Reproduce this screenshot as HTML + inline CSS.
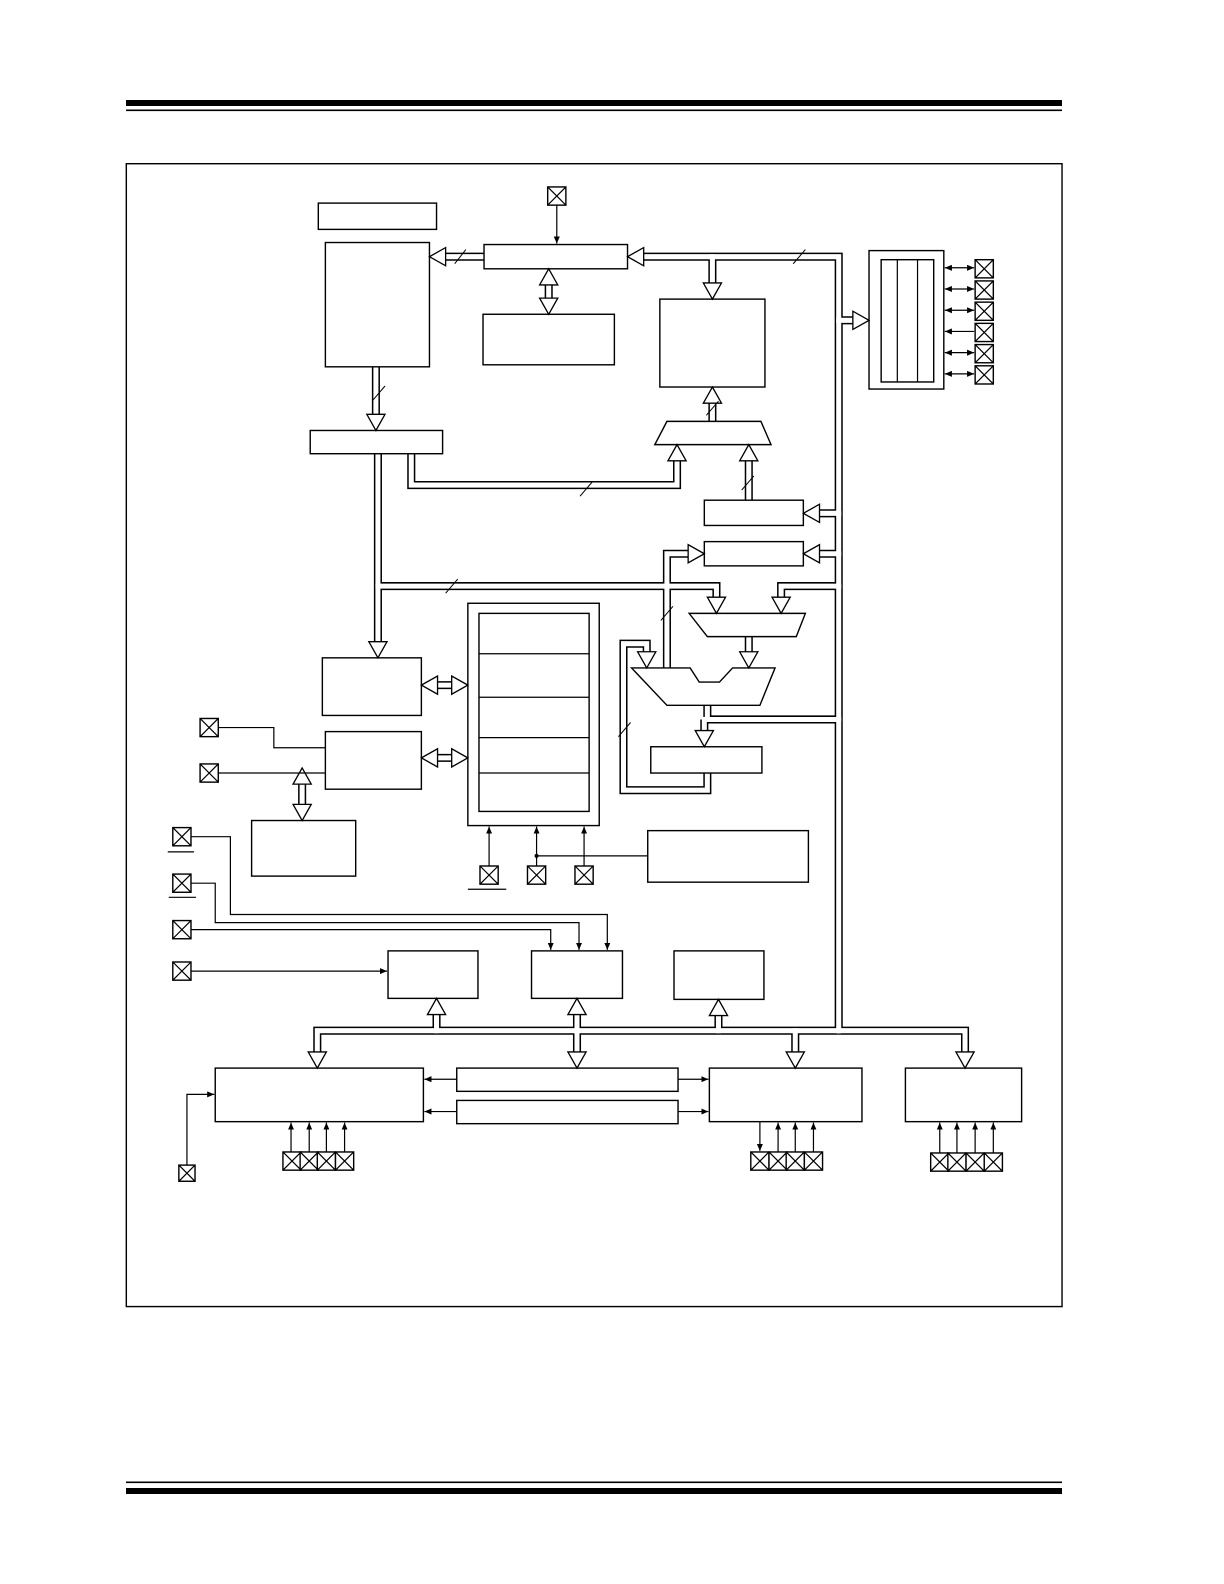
<!DOCTYPE html>
<html><head><meta charset="utf-8"><style>
html,body{margin:0;padding:0;background:#fff}
svg{display:block}
.r{fill:#fff;stroke:#000;stroke-width:1.4}
.l{fill:none;stroke:#000;stroke-width:1.2}
.bo{fill:none;stroke:#000;stroke-width:8;stroke-linejoin:miter;stroke-linecap:butt}
.bi{fill:none;stroke:#fff;stroke-width:5;stroke-linejoin:miter;stroke-linecap:square}
.a{fill:#fff;stroke:#000;stroke-width:1.3;stroke-linejoin:miter}
.s{stroke:#000;stroke-width:1;fill:none}
</style></head><body>
<svg width="1224" height="1584" viewBox="0 0 1224 1584" xmlns="http://www.w3.org/2000/svg">
<defs>
<marker id="m" markerWidth="8" markerHeight="8" refX="7" refY="3" orient="auto" markerUnits="userSpaceOnUse"><path d="M0,0 L7,3 L0,6 z" fill="#000"/></marker>
<marker id="ms" markerWidth="8" markerHeight="8" refX="0" refY="3" orient="auto" markerUnits="userSpaceOnUse"><path d="M7,0 L0,3 L7,6 z" fill="#000"/></marker>
<g id="p"><rect x="-9" y="-9" width="18" height="18" class="r"/><path d="M-9,-9 L9,9 M9,-9 L-9,9" class="l"/></g>
</defs>
<rect x="126" y="100" width="936" height="6" fill="#000"/>
<rect x="126" y="109.5" width="936" height="1.6" fill="#000"/>
<rect x="126" y="1481.5" width="936" height="1.6" fill="#000"/>
<rect x="126" y="1488" width="936" height="6" fill="#000"/>
<g transform="scale(1.0105)">
<rect x="125" y="162" width="926" height="1131" class="r"/>
<g class="bo">
<path d="M479 254 H438"/>
<path d="M634 254 H830 V1020"/>
<path d="M705 254 V283"/>
<path d="M830 317 H847"/>
<path d="M830 508 H808"/>
<path d="M830 548 H808"/>
<path d="M830 580 H773 V594"/>
<path d="M700 698 V712 H830"/>
<path d="M697 712 V726"/>
<path d="M830 1020 H314 V1044"/>
<path d="M830 1020 H955 V1044"/>
<path d="M432 1020 V1001"/><path d="M571 1020 V1001"/><path d="M711 1020 V1002"/>
<path d="M571 1020 V1044"/><path d="M787 1020 V1044"/>
<path d="M372 363 V413"/>
<path d="M374 449 V637"/>
<path d="M374 580 H709 V594"/>
<path d="M407 449 V480 H670 V453"/>
<path d="M741 520 V453"/>
<path d="M705 417 V396"/>
<path d="M741 630 V648"/>
<path d="M700 765 V782 H617 V637 H640 V648"/>
<path d="M660 661 V548 H684"/>
<path d="M543 279 V298"/>
<path d="M430 678 H450"/>
<path d="M430 750 H450"/>
<path d="M299 773 V799"/>
</g>
<g class="bi">
<path d="M479 254 H438"/>
<path d="M634 254 H830 V1020"/>
<path d="M705 254 V283"/>
<path d="M830 317 H847"/>
<path d="M830 508 H808"/>
<path d="M830 548 H808"/>
<path d="M830 580 H773 V594"/>
<path d="M700 698 V712 H830"/>
<path d="M697 712 V726"/>
<path d="M830 1020 H314 V1044"/>
<path d="M830 1020 H955 V1044"/>
<path d="M432 1020 V1001"/><path d="M571 1020 V1001"/><path d="M711 1020 V1002"/>
<path d="M571 1020 V1044"/><path d="M787 1020 V1044"/>
<path d="M372 363 V413"/>
<path d="M374 449 V637"/>
<path d="M374 580 H709 V594"/>
<path d="M407 449 V480 H670 V453"/>
<path d="M741 520 V453"/>
<path d="M705 417 V396"/>
<path d="M741 630 V648"/>
<path d="M700 765 V782 H617 V637 H640 V648"/>
<path d="M660 661 V548 H684"/>
<path d="M543 279 V298"/>
<path d="M430 678 H450"/>
<path d="M430 750 H450"/>
<path d="M299 773 V799"/>
</g>
<rect x="315" y="201" width="117" height="26" class="r"/>
<rect x="322" y="240" width="103" height="123" class="r"/>
<rect x="479" y="242" width="142" height="24" class="r"/>
<rect x="478" y="311" width="130" height="50" class="r"/>
<rect x="653" y="296" width="104" height="87" class="r"/>
<rect x="307" y="426" width="131" height="23" class="r"/>
<rect x="860" y="248" width="74" height="137" class="r"/>
<rect x="872" y="257" width="52" height="121" class="r"/>
<path d="M888 257 V378 M908 257 V378" class="l"/>
<rect x="697" y="495" width="98" height="25" class="r"/>
<rect x="697" y="536" width="98" height="24" class="r"/>
<polygon points="660,417 753,417 763,440 648,440" class="r"/>
<polygon points="682,607 797,607 788,630 700,630" class="r"/>
<polygon points="625,661 683,661 692,675 712,675 725,661 767,661 752,698 660,698" class="r"/>
<rect x="644" y="739" width="110" height="26" class="r"/>
<rect x="463" y="597" width="130" height="220" class="r"/>
<rect x="474" y="607" width="109" height="196" class="r"/>
<path d="M474 647 H583 M474 690 H583 M474 730 H583 M474 765 H583" class="l"/>
<rect x="319" y="651" width="98" height="57" class="r"/>
<rect x="322" y="724" width="95" height="57" class="r"/>
<rect x="249" y="812" width="103" height="55" class="r"/>
<rect x="641" y="822" width="159" height="51" class="r"/>
<rect x="384" y="941" width="89" height="47" class="r"/>
<rect x="526" y="941" width="90" height="47" class="r"/>
<rect x="667" y="941" width="89" height="48" class="r"/>
<rect x="213" y="1057" width="206" height="53" class="r"/>
<rect x="452" y="1057" width="219" height="23" class="r"/>
<rect x="452" y="1089" width="219" height="23" class="r"/>
<rect x="702" y="1057" width="151" height="53" class="r"/>
<rect x="896" y="1057" width="115" height="53" class="r"/>
<g class="a">
<polygon points="425,254 441,245 441,263"/>
<polygon points="621,254 637,245 637,263"/>
<polygon points="705,296 696,280 714,280"/>
<polygon points="860,317 844,308 844,326"/>
<polygon points="795,508 811,499 811,517"/>
<polygon points="795,548 811,539 811,557"/>
<polygon points="697,548 681,539 681,557"/>
<polygon points="543,266 534,282 552,282"/>
<polygon points="543,311 534,295 552,295"/>
<polygon points="372,426 363,410 381,410"/>
<polygon points="374,651 365,635 383,635"/>
<polygon points="670,440 661,456 679,456"/>
<polygon points="741,440 732,456 750,456"/>
<polygon points="705,383 696,399 714,399"/>
<polygon points="709,607 700,591 718,591"/>
<polygon points="773,607 764,591 782,591"/>
<polygon points="741,661 732,645 750,645"/>
<polygon points="640,661 631,645 649,645"/>
<polygon points="697,739 688,723 706,723"/>
<polygon points="417,678 433,669 433,687"/>
<polygon points="463,678 447,669 447,687"/>
<polygon points="417,750 433,741 433,759"/>
<polygon points="463,750 447,741 447,759"/>
<polygon points="299,760 290,776 308,776"/>
<polygon points="299,812 290,796 308,796"/>
<polygon points="432,988 423,1004 441,1004"/>
<polygon points="571,988 562,1004 580,1004"/>
<polygon points="711,989 702,1005 720,1005"/>
<polygon points="314,1057 305,1041 323,1041"/>
<polygon points="571,1057 562,1041 580,1041"/>
<polygon points="787,1057 778,1041 796,1041"/>
<polygon points="955,1057 946,1041 964,1041"/>
</g>
<path class="s" d="M450 261 L461 247 M369 396 L381 382 M785 261 L797 247 M574 491 L586 477 M441 587 L453 573 M734 485 L746 471 M699 411 L711 397 M654 614 L666 600 M612 729 L624 715"/>
<use href="#p" x="551" y="194"/>
<path class="l" d="M551 203 V241" marker-end="url(#m)"/>
<use href="#p" x="974" y="266"/><use href="#p" x="974" y="287"/><use href="#p" x="974" y="308"/>
<use href="#p" x="974" y="329"/><use href="#p" x="974" y="350"/><use href="#p" x="974" y="371"/>
<path class="l" d="M935 265 H964" marker-start="url(#ms)" marker-end="url(#m)"/>
<path class="l" d="M935 286 H964" marker-start="url(#ms)" marker-end="url(#m)"/>
<path class="l" d="M935 307 H964" marker-start="url(#ms)" marker-end="url(#m)"/>
<path class="l" d="M935 328 H964" marker-start="url(#ms)"/>
<path class="l" d="M935 349 H964" marker-start="url(#ms)" marker-end="url(#m)"/>
<path class="l" d="M935 370 H964" marker-start="url(#ms)" marker-end="url(#m)"/>
<use href="#p" x="207" y="720"/><use href="#p" x="207" y="765"/>
<path class="l" d="M216 720 H271 V740 H322 M216 765 H322"/>
<use href="#p" x="484" y="866"/><use href="#p" x="531" y="866"/><use href="#p" x="578" y="866"/>
<path class="l" d="M463 880 H501"/>
<path class="l" d="M484 857 V818" marker-end="url(#m)"/>
<path class="l" d="M531 857 V818" marker-end="url(#m)"/>
<path class="l" d="M578 857 V818" marker-end="url(#m)"/>
<path class="l" d="M531 847 H641"/>
<circle cx="531" cy="847" r="2" fill="#000"/>
<use href="#p" x="180" y="828"/><use href="#p" x="180" y="874"/><use href="#p" x="180" y="920"/><use href="#p" x="180" y="961"/>
<path class="l" d="M166 843 H192 M167 888 H194"/>
<path class="l" d="M189 828 H228 V905 H601 V940" marker-end="url(#m)"/>
<path class="l" d="M189 874 H213 V913 H573 V940" marker-end="url(#m)"/>
<path class="l" d="M189 920 H545 V940" marker-end="url(#m)"/>
<path class="l" d="M189 961 H383" marker-end="url(#m)"/>
<path class="l" d="M452 1068 H420" marker-end="url(#m)"/>
<path class="l" d="M452 1100 H420" marker-end="url(#m)"/>
<path class="l" d="M671 1068 H701" marker-end="url(#m)"/>
<path class="l" d="M671 1100 H701" marker-end="url(#m)"/>
<use href="#p" x="289" y="1149"/><use href="#p" x="306" y="1149"/><use href="#p" x="323" y="1149"/><use href="#p" x="341" y="1149"/>
<path class="l" d="M288 1140 V1111" marker-end="url(#m)"/>
<path class="l" d="M306 1140 V1111" marker-end="url(#m)"/>
<path class="l" d="M323 1140 V1111" marker-end="url(#m)"/>
<path class="l" d="M341 1140 V1111" marker-end="url(#m)"/>
<use href="#p" x="752" y="1149"/><use href="#p" x="770" y="1149"/><use href="#p" x="787" y="1149"/><use href="#p" x="805" y="1149"/>
<path class="l" d="M752 1110 V1139" marker-end="url(#m)"/>
<path class="l" d="M770 1140 V1111" marker-end="url(#m)"/>
<path class="l" d="M787 1140 V1111" marker-end="url(#m)"/>
<path class="l" d="M805 1140 V1111" marker-end="url(#m)"/>
<use href="#p" x="930" y="1150"/><use href="#p" x="947" y="1150"/><use href="#p" x="965" y="1150"/><use href="#p" x="983" y="1150"/>
<path class="l" d="M930 1141 V1111" marker-end="url(#m)"/>
<path class="l" d="M947 1141 V1111" marker-end="url(#m)"/>
<path class="l" d="M965 1141 V1111" marker-end="url(#m)"/>
<path class="l" d="M983 1141 V1111" marker-end="url(#m)"/>
<rect x="177" y="1153" width="16" height="16" class="r"/><path class="l" d="M177 1153 L193 1169 M193 1153 L177 1169"/>
<path class="l" d="M185 1153 V1083 H212" marker-end="url(#m)"/>
</g>
</svg>
</body></html>
